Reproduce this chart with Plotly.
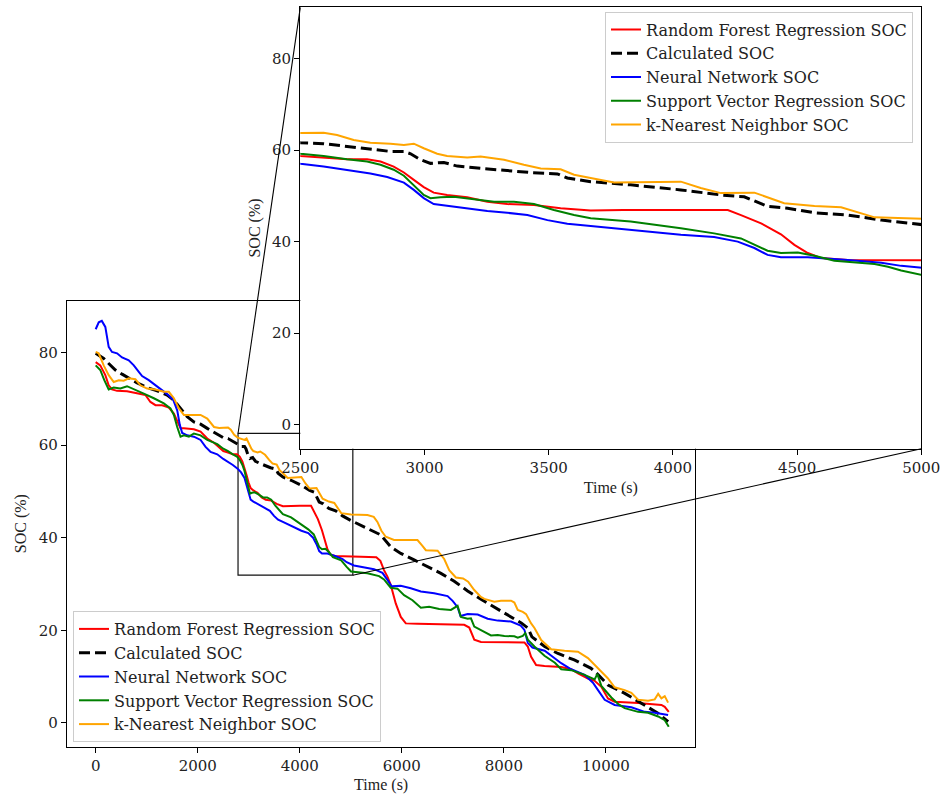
import plotly.graph_objects as go

W, H = 945, 796

# ---- SOC estimates over the discharge test (time in s, SOC in %) ----
rf_t = [0, 90, 189, 255, 320, 419, 615, 812, 975, 1073, 1172, 1303, 1434, 1533, 1598, 1663, 1729, 1925,
        2056, 2187, 2319, 2420, 2501, 2594, 2688, 2769, 2823, 2876, 2917, 2957, 2997, 3037, 3091, 3172,
        3253, 3333, 3441, 3548, 3669, 3800, 4000, 4221, 4274, 4355, 4435, 4489, 4543, 4597, 4704, 4850,
        5005, 5200, 5500, 5580, 5651, 5718, 5783, 5881, 5980, 6078, 6307, 6766, 7223, 7322, 7388, 7420,
        7551, 8010, 8403, 8469, 8534, 8632, 8796, 9124, 9320, 9452, 9648, 9779, 9910, 10041, 10171,
        10631, 11088, 11153, 11232]
rf_soc = [77.9, 77.2, 75.1, 72.9, 72.0, 71.7, 71.6, 71.1, 70.8, 69.3, 68.6, 68.6, 68.1, 66.8, 65.0, 63.6,
          63.6, 63.4, 62.9, 61.4, 60.5, 59.6, 58.7, 58.4, 58.0, 58.0, 57.5, 56.4, 55.1, 53.5, 51.9, 50.7,
          50.2, 49.7, 48.7, 48.2, 48.0, 47.3, 46.8, 46.9, 46.9, 46.9, 45.8, 44.0, 41.6, 39.3, 37.5, 36.4,
          36.0, 36.0, 36.0, 35.9, 35.8, 35.0, 33.0, 31.6, 29.8, 25.8, 22.9, 21.5, 21.4, 21.3, 21.2, 20.6,
          18.6, 18.0, 17.5, 17.5, 17.4, 16.5, 14.3, 12.5, 12.3, 12.1, 11.6, 10.7, 9.6, 9.1, 7.8, 5.3, 4.6,
          4.3, 3.9, 3.5, 2.4]

calc_t = [0, 157, 255, 386, 517, 648, 812, 1008, 1205, 1401, 1533, 1663, 1794, 1925, 2056, 2187, 2319,
          2420, 2501, 2594, 2688, 2796, 2863, 2917, 2944, 2984, 3024, 3078, 3132, 3226, 3333, 3427, 3535,
          3575, 3669, 3830, 4032, 4193, 4287, 4381, 4462, 4570, 4704, 4839, 5005, 5062, 5325, 5587, 5783,
          5980, 6241, 6504, 6766, 7027, 7290, 7551, 7800, 8070, 8340, 8470, 8550, 8800, 9060, 9380, 9710,
          9850, 10040, 10370, 10700, 11020, 11220]
calc_soc = [79.8, 78.7, 77.6, 76.2, 75.3, 74.4, 73.4, 72.4, 71.7, 70.8, 69.7, 67.9, 66.1, 65.0, 64.5,
            63.6, 62.8, 62.1, 61.6, 61.4, 60.8, 60.2, 59.7, 59.7, 59.2, 57.9, 57.1, 57.3, 56.5, 56.0, 55.5,
            55.1, 54.8, 53.9, 53.1, 52.4, 51.3, 50.2, 49.8, 47.7, 47.3, 46.3, 45.8, 44.7, 43.7, 43.4, 42.0,
            40.6, 38.0, 36.6, 35.2, 33.7, 32.3, 30.6, 28.5, 26.7, 25.1, 23.5, 21.6, 20.5, 18.6, 16.5, 15.0,
            13.6, 11.8, 10.4, 8.2, 6.4, 4.3, 2.1, 0.3]

nn_t = [0, 60, 120, 189, 255, 320, 419, 517, 648, 747, 845, 910, 1041, 1172, 1303, 1401, 1519, 1598,
        1650, 1696, 1794, 1925, 2056, 2154, 2252, 2383, 2501, 2594, 2688, 2782, 2850, 2917, 2957, 2997,
        3037, 3091, 3172, 3253, 3333, 3414, 3495, 3575, 3669, 3763, 3900, 4032, 4166, 4261, 4328, 4381,
        4435, 4543, 4704, 4839, 4919, 5005, 5062, 5455, 5620, 5718, 5800, 5980, 6176, 6373, 6634, 6897,
        7000, 7093, 7150, 7290, 7487, 7683, 7880, 8141, 8330, 8403, 8469, 8560, 8700, 8800, 9124, 9320,
        9582, 9746, 9845, 9976, 10171, 10499, 10761, 10957, 11219]
nn_soc = [85.0, 86.5, 86.8, 85.5, 81.2, 80.1, 79.8, 78.9, 78.3, 77.2, 75.8, 74.9, 74.0, 72.9, 71.8, 71.0,
          69.8, 67.5, 64.3, 62.6, 62.1, 61.8, 61.1, 59.6, 58.5, 58.0, 57.0, 56.4, 55.7, 54.9, 54.1, 52.9,
          51.3, 49.5, 48.2, 47.8, 47.3, 46.7, 46.3, 45.8, 44.7, 43.9, 43.4, 42.9, 42.2, 41.5, 41.0, 40.0,
          38.6, 37.1, 36.6, 36.6, 36.0, 35.4, 34.7, 34.2, 34.0, 33.2, 32.4, 30.9, 29.5, 29.6, 29.1, 28.4,
          28.0, 27.4, 26.3, 25.0, 23.1, 23.5, 23.4, 22.5, 22.1, 21.9, 21.0, 20.1, 17.3, 16.3, 15.9, 15.6,
          12.9, 11.6, 10.4, 8.7, 7.1, 5.0, 3.9, 3.4, 2.4, 2.2, 1.7]

svr_t = [0, 90, 169, 255, 354, 484, 615, 747, 943, 1140, 1336, 1466, 1533, 1598, 1663, 1729, 1827, 1925,
         2056, 2187, 2383, 2501, 2594, 2688, 2769, 2823, 2876, 2917, 2957, 2997, 3024, 3064, 3118, 3199,
         3280, 3360, 3441, 3521, 3602, 3669, 3830, 4032, 4166, 4274, 4341, 4381, 4435, 4503, 4570, 4650,
         4812, 4866, 4919, 5005, 5062, 5325, 5554, 5651, 5783, 5914, 6044, 6209, 6373, 6536, 6733, 6962,
         7093, 7158, 7290, 7355, 7420, 7487, 7617, 7748, 7880, 8010, 8206, 8272, 8371, 8420, 8469, 8599,
         8796, 9000, 9124, 9320, 9582, 9779, 9832, 9910, 10107, 10250, 10368, 10631, 10827, 11024, 11153,
         11232]
svr_soc = [77.2, 76.2, 74.0, 72.0, 72.4, 72.2, 72.7, 72.0, 71.1, 70.1, 69.0, 67.9, 66.5, 63.9, 61.8, 62.1,
           61.8, 62.5, 62.1, 61.1, 60.2, 59.2, 58.7, 58.0, 57.5, 56.8, 55.7, 54.4, 52.4, 50.2, 49.5, 49.7,
           49.8, 49.3, 48.7, 48.7, 48.2, 46.9, 45.8, 45.1, 44.4, 42.9, 41.8, 40.7, 38.9, 38.0, 37.5, 37.6,
           36.9, 35.8, 35.1, 34.5, 33.7, 32.7, 32.6, 32.3, 31.7, 31.0, 29.2, 29.0, 27.6, 26.5, 24.9, 25.1,
           24.6, 24.4, 25.3, 22.9, 22.5, 22.6, 20.8, 20.4, 19.7, 18.9, 19.0, 18.8, 18.7, 18.4, 18.8, 19.4,
           18.0, 16.5, 14.5, 13.0, 11.6, 11.4, 10.4, 9.4, 10.6, 8.0, 5.5, 4.0, 3.2, 2.4, 2.2, 1.4, 0.6, -0.8]

knn_t = [0, 59, 157, 255, 354, 452, 550, 648, 779, 877, 1008, 1172, 1336, 1434, 1533, 1631, 1729, 1859,
         2056, 2187, 2319, 2420, 2501, 2594, 2648, 2715, 2782, 2863, 2917, 2957, 2997, 3051, 3091, 3172,
         3226, 3320, 3400, 3468, 3548, 3602, 3669, 3763, 4032, 4112, 4193, 4328, 4448, 4570, 4677, 4812,
         5005, 5325, 5450, 5522, 5600, 5685, 5848, 6307, 6400, 6471, 6701, 6831, 6929, 7060, 7200, 7300,
         7420, 7550, 7617, 7813, 7945, 8141, 8206, 8272, 8371, 8436, 8534, 8600, 8731, 8927, 9189, 9452,
         9648, 9845, 10041, 10171, 10368, 10499, 10631, 10827, 10957, 11024, 11088, 11153, 11219]
knn_soc = [80.1, 79.8, 77.2, 75.1, 73.6, 74.0, 73.9, 74.4, 74.2, 72.9, 72.2, 72.0, 71.5, 71.5, 70.1, 67.9,
           66.5, 66.5, 66.5, 65.7, 63.9, 63.7, 63.7, 63.8, 63.3, 62.2, 61.6, 61.4, 61.1, 61.4, 60.4, 59.2,
           58.7, 58.4, 58.6, 57.9, 56.8, 56.0, 55.8, 54.6, 53.9, 52.9, 53.1, 51.7, 50.6, 50.7, 48.4, 47.8,
           47.5, 45.3, 45.0, 44.9, 44.5, 43.4, 41.5, 40.2, 39.5, 39.5, 38.3, 37.3, 37.2, 35.4, 33.0, 31.4,
           31.2, 30.5, 28.7, 27.2, 26.8, 26.2, 26.4, 26.4, 26.0, 24.4, 24.0, 23.5, 21.5, 20.5, 17.9, 15.9,
           15.6, 15.4, 14.0, 11.8, 9.6, 7.7, 7.1, 6.5, 5.0, 4.8, 5.1, 6.3, 5.3, 5.8, 4.4]

series = [
    ("Random Forest Regression SOC", rf_t, rf_soc, "#ff0000", "solid", 2.0),
    ("Calculated SOC", calc_t, calc_soc, "#000000", "11px,5px", 3.0),
    ("Neural Network SOC", nn_t, nn_soc, "#0000ff", "solid", 2.0),
    ("Support Vector Regression SOC", svr_t, svr_soc, "#008000", "solid", 2.0),
    ("k-Nearest Neighbor SOC", knn_t, knn_soc, "#ffa500", "solid", 2.0),
]

main_xticks = [0, 2000, 4000, 6000, 8000, 10000]
inset_xticks = [2500, 3000, 3500, 4000, 4500, 5000]
soc_ticks = [0, 20, 40, 60, 80]

# ---- axes layout ----
MAIN_X_RANGE = [-562, 11752]
MAIN_Y_RANGE = [-5.12, 91.16]
INSET_X_RANGE = [2500, 5000]
INSET_Y_RANGE = [-5.25, 91.2]
MAIN_X_DOM = [67 / W, 695.3 / W]
MAIN_Y_DOM = [1 - 746.7 / H, 1 - 300.7 / H]
INSET_X_DOM = [300.3 / W, 921.3 / W]
INSET_Y_DOM = [1 - 448.7 / H, 1 - 7.3 / H]

# region of the main plot that is magnified
ZOOM_X = [2790, 5040]
ZOOM_Y = [31.9, 62.5]

TICK_FONT = dict(family="DejaVu Serif", size=15, color="#222222")
TITLE_FONT = dict(family="Liberation Serif", size=16, color="#222222")
LEGEND_FONT = dict(family="DejaVu Serif", size=16, color="#222222")

fig = go.Figure()

for name, t, v, color, dash, width in series:
    fig.add_trace(go.Scatter(
        x=t, y=v, mode="lines", name=name, legend="legend",
        line=dict(color=color, width=width, dash=dash),
        xaxis="x", yaxis="y"))

for name, t, v, color, dash, width in series:
    fig.add_trace(go.Scatter(
        x=t, y=v, mode="lines", name=name, legend="legend2",
        line=dict(color=color, width=width, dash=dash),
        xaxis="x2", yaxis="y2"))

axis_common = dict(showline=True, linecolor="black", linewidth=1.3, mirror=True,
                   ticks="outside", ticklen=5, tickwidth=1.2, tickcolor="black",
                   showgrid=False, zeroline=False, tickfont=TICK_FONT, automargin=False)


def to_paper(val, rng, dom):
    return dom[0] + (val - rng[0]) / (rng[1] - rng[0]) * (dom[1] - dom[0])


# connectors from the zoomed region to the inset corners
c1 = (to_paper(ZOOM_X[0], MAIN_X_RANGE, MAIN_X_DOM), to_paper(ZOOM_Y[1], MAIN_Y_RANGE, MAIN_Y_DOM),
      INSET_X_DOM[0], INSET_Y_DOM[1])
c2 = (to_paper(ZOOM_X[1], MAIN_X_RANGE, MAIN_X_DOM), to_paper(ZOOM_Y[0], MAIN_Y_RANGE, MAIN_Y_DOM),
      INSET_X_DOM[1], INSET_Y_DOM[0])

shapes = [
    dict(type="rect", xref="x", yref="y", x0=ZOOM_X[0], x1=ZOOM_X[1], y0=ZOOM_Y[0], y1=ZOOM_Y[1],
         line=dict(color="#111111", width=1.2), fillcolor="rgba(0,0,0,0)", layer="below"),
    dict(type="line", xref="paper", yref="paper", x0=c1[0], y0=c1[1], x1=c1[2], y1=c1[3],
         line=dict(color="black", width=1.1), layer="above"),
    dict(type="line", xref="paper", yref="paper", x0=c2[0], y0=c2[1], x1=c2[2], y1=c2[3],
         line=dict(color="black", width=1.1), layer="above"),
]

legend_common = dict(font=LEGEND_FONT, bgcolor="rgba(255,255,255,0.85)", bordercolor="#cccccc",
                     borderwidth=1, tracegroupgap=0)

fig.update_layout(
    width=W, height=H,
    margin=dict(l=0, r=0, t=0, b=0, autoexpand=False),
    paper_bgcolor="white", plot_bgcolor="white",
    xaxis=dict(domain=MAIN_X_DOM, range=MAIN_X_RANGE, anchor="y",
               tickvals=main_xticks, ticktext=[str(v) for v in main_xticks],
               title=dict(text="Time (s)", font=TITLE_FONT, standoff=4), **axis_common),
    yaxis=dict(domain=MAIN_Y_DOM, range=MAIN_Y_RANGE, anchor="x",
               tickvals=soc_ticks, ticktext=[str(v) for v in soc_ticks],
               title=dict(text="SOC (%)", font=TITLE_FONT, standoff=8), **axis_common),
    xaxis2=dict(domain=INSET_X_DOM, range=INSET_X_RANGE, anchor="y2",
                tickvals=inset_xticks, ticktext=[str(v) for v in inset_xticks],
                title=dict(text="Time (s)", font=TITLE_FONT, standoff=5), **axis_common),
    yaxis2=dict(domain=INSET_Y_DOM, range=INSET_Y_RANGE, anchor="x2",
                tickvals=soc_ticks, ticktext=[str(v) for v in soc_ticks],
                title=dict(text="SOC (%)", font=TITLE_FONT, standoff=7), **axis_common),
    legend=dict(x=73 / W, y=1 - 742 / H, xanchor="left", yanchor="bottom", **legend_common),
    legend2=dict(x=913 / W, y=1 - 11.5 / H, xanchor="right", yanchor="top", **legend_common),
    shapes=shapes,
)

fig.write_html("out.html")
